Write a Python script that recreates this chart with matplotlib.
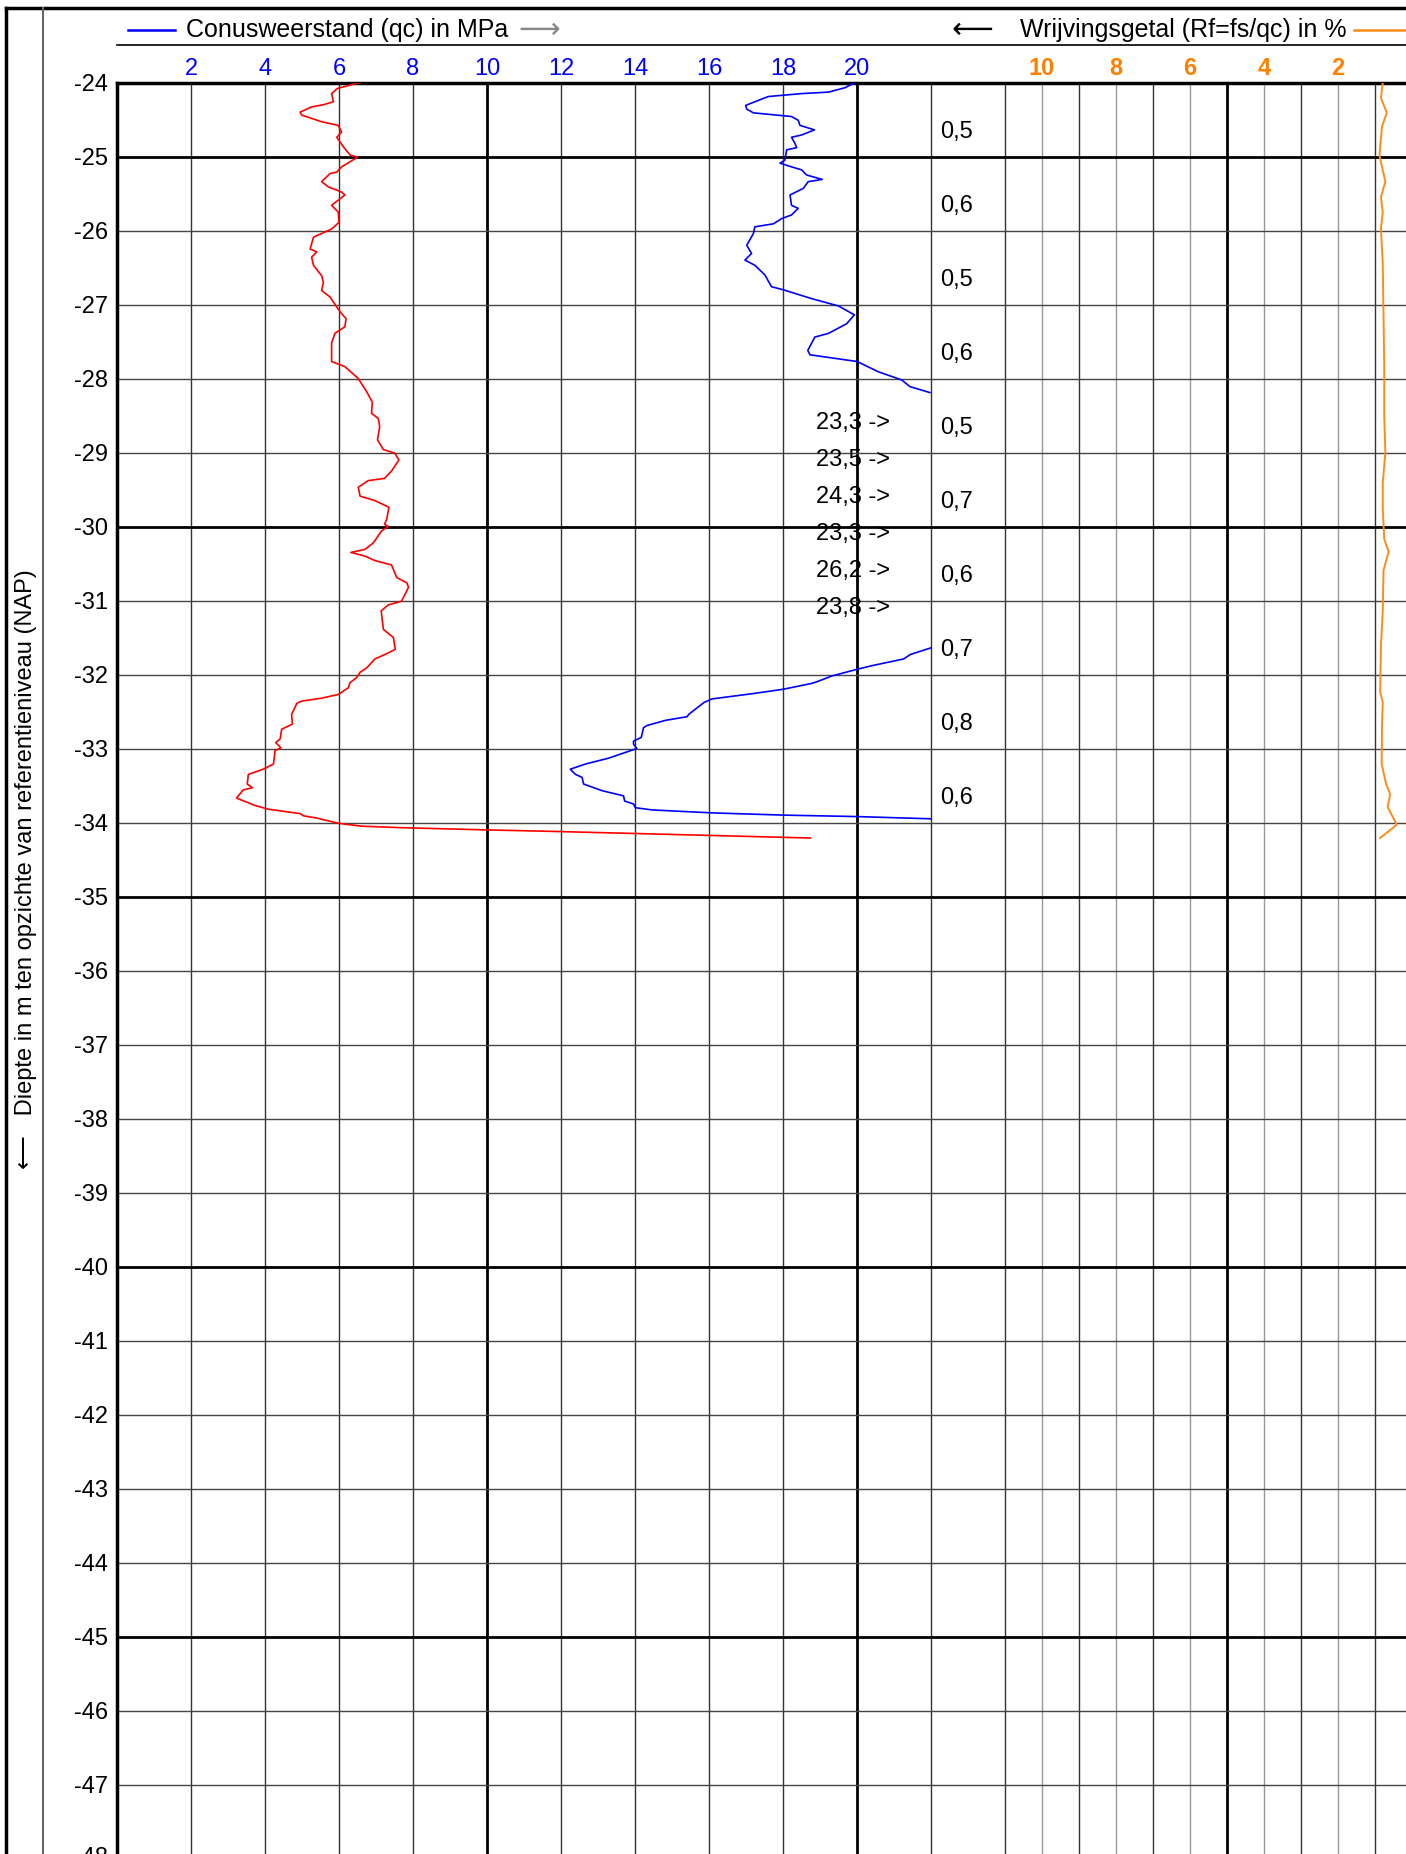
import matplotlib.pyplot as plt
from matplotlib.lines import Line2D
import numpy as np

plt.rcParams['font.family'] = ['Liberation Sans', 'DejaVu Sans']

# cone resistance qc (MPa), plotted up to 22, values beyond are written as text
qc_depth_1 = [-24.0, -24.07, -24.13, -24.15, -24.19, -24.26, -24.31, -24.36, -24.41, -24.46,
              -24.51, -24.58, -24.64, -24.71, -24.74, -24.82, -24.88, -24.91, -25.05, -25.09,
              -25.14, -25.18, -25.25, -25.31, -25.34, -25.43, -25.52, -25.66, -25.7, -25.79,
              -25.84, -25.91, -25.95, -26.04, -26.2, -26.31, -26.4, -26.47, -26.6, -26.76,
              -26.8, -26.92, -27.02, -27.14, -27.26, -27.39, -27.44, -27.62, -27.68, -27.77,
              -27.91, -28.02, -28.11, -28.19]
qc_val_1 = [19.95, 19.68, 19.23, 18.5, 17.6, 17.24, 16.99, 17.02, 17.2, 18.23,
            18.41, 18.46, 18.85, 18.5, 18.23, 18.32, 18.37, 18.1, 18.05, 17.92,
            18.23, 18.5, 18.64, 19.06, 18.68, 18.55, 18.19, 18.23, 18.41, 18.23,
            17.96, 17.74, 17.24, 17.2, 17.02, 17.15, 16.97, 17.24, 17.51, 17.69,
            18.0, 18.77, 19.5, 19.93, 19.72, 19.23, 18.86, 18.67, 18.73, 20.0,
            20.58, 21.21, 21.43, 21.97]
qc_depth_2 = [-31.64, -31.73, -31.79, -31.88, -31.93, -32.02, -32.09, -32.12, -32.2, -32.26,
              -32.33, -32.38, -32.45, -32.54, -32.57, -32.62, -32.69, -32.72, -32.85, -32.9,
              -32.94, -33.0, -33.13, -33.21, -33.28, -33.35, -33.39, -33.48, -33.57, -33.64,
              -33.71, -33.75, -33.8, -33.83, -33.87, -33.9, -33.92, -33.95]
qc_val_2 = [22.0, 21.44, 21.26, 20.41, 20.0, 19.32, 18.96, 18.78, 18.0, 17.16,
            16.08, 15.86, 15.68, 15.45, 15.41, 14.82, 14.32, 14.23, 14.17, 13.96,
            13.96, 14.05, 13.29, 12.66, 12.25, 12.39, 12.57, 12.61, 13.11, 13.69,
            13.72, 13.96, 14.01, 14.46, 16.08, 18.0, 20.0, 22.0]

# red curve
red_depth = [-24.0, -24.08, -24.15, -24.26, -24.3, -24.33, -24.4, -24.44, -24.53, -24.58,
             -24.67, -24.74, -24.87, -24.98, -25.01, -25.14, -25.21, -25.23, -25.34, -25.41,
             -25.48, -25.52, -25.66, -25.75, -25.89, -25.98, -26.09, -26.25, -26.29, -26.36,
             -26.47, -26.61, -26.7, -26.81, -26.9, -27.1, -27.19, -27.3, -27.39, -27.52,
             -27.66, -27.77, -27.84, -28.0, -28.18, -28.32, -28.47, -28.54, -28.65, -28.83,
             -28.96, -29.01, -29.1, -29.25, -29.35, -29.38, -29.47, -29.59, -29.65, -29.74,
             -29.9, -29.97, -30.0, -30.06, -30.22, -30.31, -30.35, -30.4, -30.46, -30.52,
             -30.69, -30.76, -30.82, -31.01, -31.06, -31.14, -31.27, -31.39, -31.5, -31.66,
             -31.73, -31.79, -31.91, -31.97, -32.04, -32.11, -32.18, -32.27, -32.32, -32.36,
             -32.39, -32.54, -32.67, -32.74, -32.87, -32.92, -32.99, -33.03, -33.21, -33.28,
             -33.35, -33.48, -33.53, -33.56, -33.67, -33.77, -33.82, -33.88, -33.91, -33.94,
             -34.01, -34.05, -34.07, -34.1, -34.12, -34.18, -34.21]
red_val = [6.57, 5.96, 5.8, 5.85, 5.58, 5.26, 4.95, 4.99, 5.53, 5.98,
           6.07, 5.94, 6.12, 6.3, 6.5, 6.07, 5.94, 5.76, 5.53, 5.71,
           6.07, 6.16, 5.8, 5.98, 6.0, 5.8, 5.31, 5.22, 5.4, 5.26,
           5.31, 5.53, 5.58, 5.53, 5.76, 6.03, 6.19, 6.16, 5.89, 5.8,
           5.8, 5.8, 6.16, 6.52, 6.75, 6.9, 6.88, 7.06, 7.1, 7.04,
           7.2, 7.51, 7.62, 7.42, 7.23, 6.79, 6.52, 6.57, 6.97, 7.35,
           7.29, 7.23, 7.33, 7.15, 6.93, 6.7, 6.32, 6.7, 6.97, 7.42,
           7.56, 7.83, 7.88, 7.69, 7.33, 7.14, 7.17, 7.2, 7.47, 7.52,
           7.24, 6.97, 6.75, 6.57, 6.48, 6.3, 6.25, 5.98, 5.53, 4.99,
           4.86, 4.72, 4.74, 4.45, 4.41, 4.29, 4.43, 4.27, 4.23, 3.95,
           3.55, 3.52, 3.66, 3.41, 3.23, 3.73, 4.09, 4.95, 5.04, 5.4,
           5.98, 6.61, 7.69, 10.0, 11.76, 16.44, 18.74]

# friction ratio Rf (%)
rf_depth = [-24.0, -24.21, -24.41, -24.59, -24.99, -25.34, -25.55, -25.76, -25.97, -26.45,
            -27.14, -27.83, -28.52, -29.0, -29.41, -29.76, -30.17, -30.34, -30.59, -31.14,
            -31.62, -32.24, -32.38, -32.66, -33.21, -33.48, -33.62, -33.79, -34.03, -34.21]
rf_val = [0.79, 0.84, 0.68, 0.81, 0.88, 0.72, 0.84, 0.79, 0.84, 0.79,
          0.77, 0.75, 0.75, 0.72, 0.79, 0.79, 0.75, 0.63, 0.77, 0.79,
          0.84, 0.86, 0.79, 0.81, 0.82, 0.7, 0.59, 0.66, 0.41, 0.86]

# mean Rf per metre
layer_top = [-24, -25, -26, -27, -28, -29, -30, -31, -32, -33]
layer_rf = [0.5, 0.6, 0.5, 0.6, 0.5, 0.7, 0.6, 0.7, 0.8, 0.6]

# qc values beyond the scale
over_depth = [-28.6, -29.1, -29.6, -30.1, -30.6, -31.1]
over_qc = [23.3, 23.5, 24.3, 23.3, 26.2, 23.8]

qc_ticks = [2, 4, 6, 8, 10, 12, 14, 16, 18, 20]
rf_ticks = [10, 8, 6, 4, 2]
depth_ticks = list(range(-24, -48, -1))

W, H = 1406, 1854
LEFT, TOP = 117, 82.5
PX_MPA, PX_M = 37.0, 74.0
RF_ZERO = 35
QC_CLIP = 22
FS = 17

fig = plt.figure(figsize=(W / 100, H / 100), dpi=100)
xmax = (W - LEFT) / PX_MPA
ymin = -24 - (H - TOP) / PX_M
ax = fig.add_axes([LEFT / W, 0, 1 - LEFT / W, 1 - TOP / H])
ax.set_xlim(0, xmax)
ax.set_ylim(ymin, -24)

# grid
for x in range(2, 36, 2):
    if x % 10 == 0:
        ax.axvline(x, color='black', lw=2, zorder=1)
    else:
        ax.axvline(x, color='#333333', lw=1, zorder=1)
for x in range(25, 35, 2):
    ax.axvline(x, color='#999999', lw=1, zorder=1)
for y in range(-25, -48, -1):
    if y % 5 == 0:
        ax.axhline(y, color='black', lw=2, zorder=1)
    else:
        ax.axhline(y, color='#444444', lw=1, zorder=1)

for s in ['right', 'bottom']:
    ax.spines[s].set_visible(False)
ax.spines['left'].set_linewidth(2.5)
ax.spines['top'].set_linewidth(2.5)

# curves
ax.plot(qc_val_1, qc_depth_1, color='#0000ff', lw=1.2, zorder=3)
ax.plot(qc_val_2, qc_depth_2, color='#0000ff', lw=1.2, zorder=3)
ax.plot(red_val, red_depth, color='#ff0000', lw=1.2, zorder=3)
ax.plot(RF_ZERO - np.array(rf_val), rf_depth, color='#ff8c1a', lw=1.4, zorder=3)

# ticks
ax.set_yticks(depth_ticks)
ax.set_yticklabels([str(d) for d in depth_ticks], fontsize=FS)
ax.tick_params(axis='y', length=0, pad=6.5)
ax.text(-9 / PX_MPA, -48, '-48', ha='right', va='center', fontsize=FS, clip_on=False)

ax.xaxis.tick_top()
ax.set_xticks(qc_ticks)
ax.set_xticklabels([str(t) for t in qc_ticks], fontsize=FS, color='#0000ff')
ax.tick_params(axis='x', length=0, pad=2)

sec = ax.secondary_xaxis('top', functions=(lambda x: RF_ZERO - x, lambda r: RF_ZERO - r))
sec.set_xticks(rf_ticks)
sec.set_xticklabels([str(t) for t in rf_ticks], fontsize=FS, color='#ff8000', fontweight='bold')
sec.tick_params(length=0, pad=2)
sec.spines['top'].set_visible(False)

# annotations
for top, v in zip(layer_top, layer_rf):
    ax.text(22.25, top - 0.67, f'{v:.1f}'.replace('.', ','), fontsize=FS, va='center', ha='left')
for d, v in zip(over_depth, over_qc):
    ax.text(18.9, d, f'{v:.1f} ->'.replace('.', ','), fontsize=FS, va='center', ha='left')


def fx(px):
    return px / W


def fy(py):
    return 1 - py / H


# frame and header
fig.add_artist(Line2D([fx(6), 1], [fy(8), fy(8)], color='black', lw=2.5))
fig.add_artist(Line2D([fx(LEFT), 1], [fy(45), fy(45)], color='black', lw=1.2))
fig.add_artist(Line2D([fx(6), fx(6)], [fy(8), 0], color='black', lw=2.5))
fig.add_artist(Line2D([fx(43), fx(43)], [fy(8), 0], color='#666666', lw=1.5))

fig.add_artist(Line2D([fx(128), fx(175)], [fy(30), fy(30)], color='#0000ff', lw=1.8))
fig.text(fx(186), fy(30), 'Conusweerstand (qc) in MPa', fontsize=FS + 1, va='center', ha='left')
fig.text(fx(518), fy(30), '⟶', fontsize=FS + 4, va='center', ha='left', color='#888888',
         family='DejaVu Sans')
fig.text(fx(952), fy(30), '⟵', fontsize=FS + 4, va='center', ha='left', color='black',
         family='DejaVu Sans')
fig.text(fx(1020), fy(30), 'Wrijvingsgetal (Rf=fs/qc) in %', fontsize=FS + 1, va='center', ha='left')
fig.add_artist(Line2D([fx(1354), 1], [fy(30), fy(30)], color='#ff8c1a', lw=1.8))

fig.text(fx(26), fy(869), '⟵   Diepte in m ten opzichte van referentieniveau (NAP)',
         rotation=90, fontsize=FS, va='center', ha='center')

fig.savefig('out.png', dpi=100)
